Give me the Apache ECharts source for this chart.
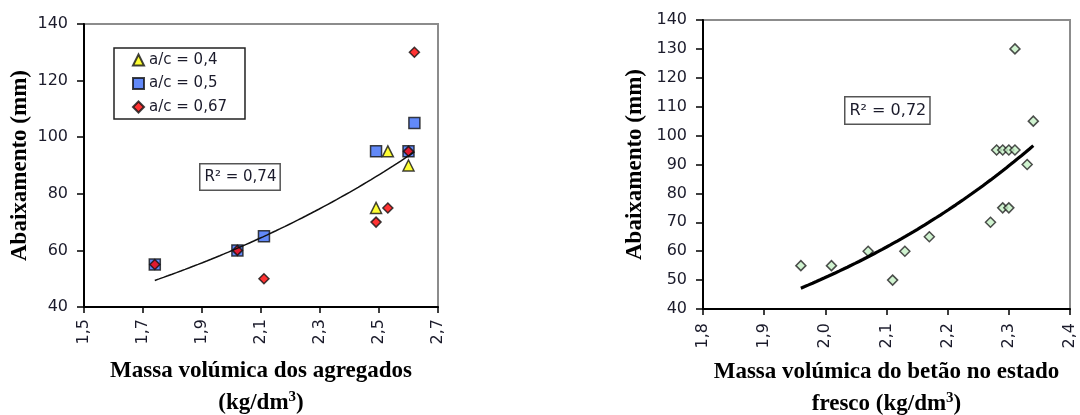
<!DOCTYPE html>
<html>
<head>
<meta charset="utf-8">
<script src="https://cdn.jsdelivr.net/npm/echarts@6/dist/echarts.min.js"></script>
<style>
  html, body { margin: 0; padding: 0; background: #fff; }
  #chart { width: 1080px; height: 415px; }
</style>
</head>
<body>
<div id="chart"></div>
<script>
// Slump (mm) against aggregate density, grouped by water/cement ratio
const aggX_ac04 = [2.53, 2.60, 2.49];
const aggY_ac04 = [95, 90, 75];
const aggX_ac05 = [1.74, 2.02, 2.11, 2.49, 2.60, 2.62];
const aggY_ac05 = [55, 60, 65, 95, 95, 105];
const aggX_ac067 = [1.74, 2.02, 2.11, 2.49, 2.53, 2.60, 2.62];
const aggY_ac067 = [55, 60, 50, 70, 75, 95, 130];

// Slump (mm) against fresh concrete density
const freshX = [1.96, 2.01, 2.07, 2.11, 2.13, 2.17, 2.27, 2.28, 2.29, 2.29, 2.30, 2.30, 2.31, 2.31, 2.33, 2.34];
const freshY = [55, 55, 60, 50, 60, 65, 70, 95, 95, 75, 95, 75, 95, 130, 90, 105];

const seriesNames = ['a/c = 0,4', 'a/c = 0,5', 'a/c = 0,67'];
const r2Left = 'R² = 0,74';
const r2Right = 'R² = 0,72';

const xTicksLeft = { min: 1.5, max: 2.7, step: 0.2 };
const xTicksRight = { min: 1.8, max: 2.4, step: 0.1 };
const yTicksLeft = { min: 40, max: 140, step: 20 };
const yTicksRight = { min: 40, max: 140, step: 10 };

const zip = (xs, ys) => xs.map((x, i) => [x, ys[i]]);

// least-squares exponential trend y = a·e^(bx), fitted on ln(y)
function expTrend(xs, ys, samples) {
  const n = xs.length;
  const ly = ys.map(Math.log);
  const mx = xs.reduce((s, v) => s + v, 0) / n;
  const my = ly.reduce((s, v) => s + v, 0) / n;
  let sxy = 0, sxx = 0;
  for (let i = 0; i < n; i++) {
    sxy += (xs[i] - mx) * (ly[i] - my);
    sxx += (xs[i] - mx) * (xs[i] - mx);
  }
  const b = sxy / sxx;
  const lnA = my - b * mx;
  const x0 = Math.min(...xs), x1 = Math.max(...xs);
  const pts = [];
  for (let k = 0; k <= samples; k++) {
    const x = x0 + (x1 - x0) * k / samples;
    pts.push([x, Math.exp(lnA + b * x)]);
  }
  return pts;
}

const allAggX = aggX_ac04.concat(aggX_ac05, aggX_ac067);
const allAggY = aggY_ac04.concat(aggY_ac05, aggY_ac067);
const trendLeft = expTrend(allAggX, allAggY, 60);
const trendRight = expTrend(freshX, freshY, 60);

const tickFont = "'DejaVu Sans', sans-serif";
const titleFont = "'Liberation Serif', 'Times New Roman', serif";
const tickColor = '#1b1b2b';
const comma = v => v.toFixed(1).replace('.', ',');

const titleRich = {
  sup: { fontFamily: titleFont, fontWeight: 'bold', fontSize: 15, color: '#000', padding: [0, 0, 12, 0] }
};

function xAxisOf(grid, t, name, gap, margin) {
  return {
    type: 'value', gridIndex: grid, min: t.min, max: t.max, interval: t.step,
    axisLine: { show: true, onZero: false, lineStyle: { color: '#000', width: 2 } },
    axisTick: { show: true, length: 6, lineStyle: { color: '#000', width: 1.5 } },
    splitLine: { show: false },
    axisLabel: { rotate: 90, margin: margin, formatter: comma, fontFamily: tickFont, fontSize: 16, color: tickColor },
    name: name, nameLocation: 'middle', nameGap: gap,
    nameTextStyle: { fontFamily: titleFont, fontWeight: 'bold', fontSize: 23, color: '#000', lineHeight: 32, rich: titleRich }
  };
}
function yAxisOf(grid, t, gap) {
  return {
    type: 'value', gridIndex: grid, min: t.min, max: t.max, interval: t.step,
    axisLine: { show: true, onZero: false, lineStyle: { color: '#000', width: 2 } },
    axisTick: { show: true, length: 7, lineStyle: { color: '#000', width: 1.5 } },
    splitLine: { show: false },
    axisLabel: { margin: 16, fontFamily: tickFont, fontSize: 16, color: tickColor },
    name: 'Abaixamento (mm)', nameLocation: 'middle', nameGap: gap,
    nameTextStyle: { fontFamily: titleFont, fontWeight: 'bold', fontSize: 23, color: '#000' }
  };
}

const markerBorder = { borderColor: '#111', borderWidth: 1.5 };

const option = {
  animation: false,
  backgroundColor: '#fff',
  grid: [
    { left: 84, right: 642, top: 24, bottom: 108, show: true, borderColor: '#8c8c8c', borderWidth: 2,
      outerBoundsMode: 'none', containLabel: false },
    { left: 703, right: 10, top: 20, bottom: 106, show: true, borderColor: '#8c8c8c', borderWidth: 2,
      outerBoundsMode: 'none', containLabel: false }
  ],
  xAxis: [
    xAxisOf(0, xTicksLeft, 'Massa volúmica dos agregados\n(kg/dm{sup|3})', 48, 12),
    xAxisOf(1, xTicksRight, 'Massa volúmica do betão no estado\nfresco (kg/dm{sup|3})', 46, 14)
  ],
  yAxis: [yAxisOf(0, yTicksLeft, 52), yAxisOf(1, yTicksRight, 56)],
  legend: {
    left: 114, top: 48, orient: 'vertical',
    data: seriesNames,
    itemWidth: 11, itemHeight: 11, itemGap: 5.5,
    padding: [3, 18, 3, 18],
    borderColor: '#222', borderWidth: 1.5, backgroundColor: '#fff',
    textStyle: { fontFamily: tickFont, fontSize: 15, color: tickColor, lineHeight: 18 }
  },
  graphic: [
    { type: 'text', left: 199, top: 163, z: 100,
      style: { text: r2Left, font: "15px 'DejaVu Sans'", fill: tickColor, backgroundColor: '#fff',
               borderColor: '#555', borderWidth: 1.5, padding: [5, 3, 5, 4] } },
    { type: 'text', left: 844, top: 96, z: 100,
      style: { text: r2Right, font: "16px 'DejaVu Sans'", fill: tickColor, backgroundColor: '#fff',
               borderColor: '#555', borderWidth: 1.5, padding: [5, 3, 5, 4] } }
  ],
  series: [
    { name: seriesNames[0], type: 'scatter', xAxisIndex: 0, yAxisIndex: 0,
      symbol: 'triangle', symbolSize: 11, data: zip(aggX_ac04, aggY_ac04),
      itemStyle: Object.assign({ color: '#ffff00' }, markerBorder) },
    { name: seriesNames[1], type: 'scatter', xAxisIndex: 0, yAxisIndex: 0,
      symbol: 'rect', symbolSize: 11, data: zip(aggX_ac05, aggY_ac05),
      itemStyle: Object.assign({ color: '#3b6cf6' }, markerBorder) },
    { name: seriesNames[2], type: 'scatter', xAxisIndex: 0, yAxisIndex: 0,
      symbol: 'diamond', symbolSize: 10, data: zip(aggX_ac067, aggY_ac067),
      itemStyle: Object.assign({ color: '#ff0000' }, markerBorder) },
    { type: 'line', xAxisIndex: 0, yAxisIndex: 0, data: trendLeft, z: 5,
      symbol: 'none', silent: true, lineStyle: { color: '#111', width: 1.5 } },
    { type: 'scatter', xAxisIndex: 1, yAxisIndex: 1,
      symbol: 'diamond', symbolSize: 10, data: zip(freshX, freshY),
      itemStyle: { color: '#c4f0c4', borderColor: '#222', borderWidth: 1.5 } },
    { type: 'line', xAxisIndex: 1, yAxisIndex: 1, data: trendRight, z: 5,
      symbol: 'none', silent: true, lineStyle: { color: '#000', width: 3.2 } }
  ]
};

echarts.init(document.getElementById('chart'), null, { renderer: 'canvas' }).setOption(option);
</script>
</body>
</html>
